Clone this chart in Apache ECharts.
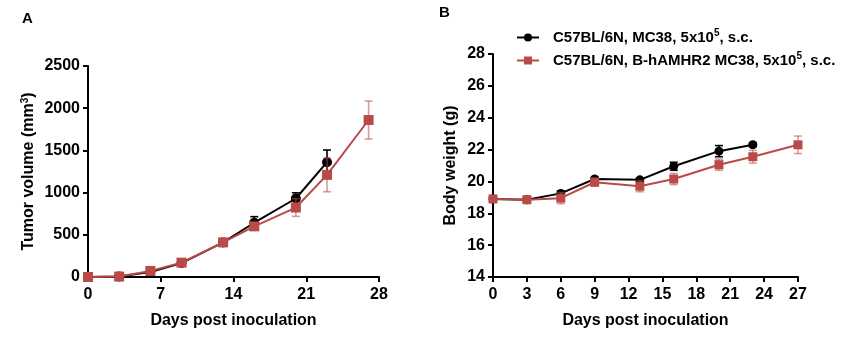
<!DOCTYPE html>
<html>
<head>
<meta charset="utf-8">
<script src="https://cdn.jsdelivr.net/npm/echarts@6/dist/echarts.min.js"></script>
<style>
  html, body { margin: 0; padding: 0; background: #fff; }
  #chart { width: 847px; height: 339px; }
</style>
</head>
<body>
<div id="chart"></div>
<script>
// Measurement days
const daysWT = [0, 3, 6, 9, 13, 16, 20, 23];
const daysH = [0, 3, 6, 9, 13, 16, 20, 23, 27];

// Tumor volume (mm^3), mean and SEM
const tumorWT = [0, 5, 58, 165, 410, 643, 930, 1360];
const tumorWTsem = [0, 3, 10, 20, 25, 72, 68, 145];
const tumorH = [0, 5, 72, 170, 410, 600, 823, 1210, 1860];
const tumorHsem = [0, 3, 12, 20, 25, 35, 105, 200, 225];

// Body weight (g), mean and SEM
const weightWT = [18.9, 18.85, 19.25, 20.15, 20.1, 20.95, 21.9, 22.3];
const weightWTsem = [0.12, 0.1, 0.15, 0.12, 0.1, 0.25, 0.35, 0.12];
const weightH = [18.9, 18.85, 18.95, 19.95, 19.7, 20.15, 21.05, 21.55, 22.3];
const weightHsem = [0.2, 0.15, 0.35, 0.25, 0.35, 0.35, 0.35, 0.4, 0.55];

// Axis ticks
const tumorXTicks = { min: 0, max: 28, interval: 7 };
const tumorYTicks = { min: 0, max: 2500, interval: 500 };
const weightXTicks = { min: 0, max: 27, interval: 3 };
const weightYTicks = { min: 14, max: 28, interval: 2 };

const nameWT = 'C57BL/6N, MC38, 5x10^5, s.c.';
const nameH = 'C57BL/6N, B-hAMHR2 MC38, 5x10^5, s.c.';

const FONT = '"Liberation Sans", Arial, sans-serif';
const BLACK = '#000000';
const RED = '#b94a48';
const RED_ERR = 'rgba(185,74,72,0.55)';

const pairs = (xs, ys) => xs.map((x, i) => [x, ys[i]]);
const triples = (xs, ys, es) => xs.map((x, i) => [x, ys[i], es[i]]);

function errorBars(color, cap) {
  return function (params, api) {
    const x = api.value(0), y = api.value(1), e = api.value(2);
    const top = api.coord([x, y + e]);
    const bot = api.coord([x, y - e]);
    const style = { stroke: color, lineWidth: 1.6 };
    return {
      type: 'group',
      children: [
        { type: 'line', shape: { x1: top[0], y1: top[1], x2: bot[0], y2: bot[1] }, style },
        { type: 'line', shape: { x1: top[0] - cap, y1: top[1], x2: top[0] + cap, y2: top[1] }, style },
        { type: 'line', shape: { x1: bot[0] - cap, y1: bot[1], x2: bot[0] + cap, y2: bot[1] }, style }
      ]
    };
  };
}

const tickLabel = { color: BLACK, fontFamily: FONT, fontWeight: 'bold', fontSize: 16, formatter: v => String(v) };
const axisLine = { show: true, lineStyle: { color: BLACK, width: 2 } };
const axisTick = { show: true, length: 5, lineStyle: { color: BLACK, width: 2 } };
const nameStyle = {
  color: BLACK, fontFamily: FONT, fontWeight: 'bold', fontSize: 16,
  rich: {
    n: { color: BLACK, fontFamily: FONT, fontWeight: 'bold', fontSize: 16 },
    s: { color: BLACK, fontFamily: FONT, fontWeight: 'bold', fontSize: 10, padding: [0, 0, 8, 0] }
  }
};

function xAxisOf(gridIndex, t) {
  return {
    type: 'value', gridIndex, min: t.min, max: t.max, interval: t.interval,
    name: 'Days post inoculation', nameLocation: 'middle', nameGap: 36,
    nameTextStyle: nameStyle,
    axisLine, axisTick, splitLine: { show: false },
    axisLabel: Object.assign({ margin: 10 }, tickLabel)
  };
}
function yAxisOf(gridIndex, t, name, gap) {
  return {
    type: 'value', gridIndex, min: t.min, max: t.max, interval: t.interval,
    name, nameLocation: 'middle', nameGap: gap, nameRotate: 90,
    nameTextStyle: nameStyle,
    axisLine, axisTick, splitLine: { show: false },
    axisLabel: Object.assign({ margin: 8 }, tickLabel)
  };
}

function lineSeries(name, idx, data, color, symbol, size, z) {
  return {
    name, type: 'line', xAxisIndex: idx, yAxisIndex: idx, data,
    symbol, symbolSize: size, z,
    lineStyle: { color, width: 2 },
    itemStyle: { color, borderWidth: 0 },
    emphasis: { disabled: true }, animation: false
  };
}
function errSeries(name, idx, data, color, z) {
  return {
    name, type: 'custom', xAxisIndex: idx, yAxisIndex: idx, data, z,
    renderItem: errorBars(color, 4), animation: false, silent: true
  };
}

const legendRich = {
  a: { color: BLACK, fontFamily: FONT, fontWeight: 'bold', fontSize: 15 },
  s: { color: BLACK, fontFamily: FONT, fontWeight: 'bold', fontSize: 10, padding: [0, 0, 9, 0] }
};

const chart = echarts.init(document.getElementById('chart'), null, { renderer: 'canvas' });
chart.setOption({
  animation: false,
  backgroundColor: '#ffffff',
  graphic: [
    { type: 'text', left: 22, top: 11, style: { text: 'A', font: 'bold 15px ' + FONT, fill: BLACK } },
    { type: 'text', left: 439, top: 5, style: { text: 'B', font: 'bold 15px ' + FONT, fill: BLACK } }
  ],
  legend: {
    orient: 'vertical', left: 511, top: 23, itemGap: 6,
    itemWidth: 22, itemHeight: 10,
    data: [nameWT, nameH],
    selectedMode: false,
    formatter: function (n) {
      const parts = n.split('^5');
      return '{a|' + parts[0] + '}{s|5}{a|' + parts[1] + '}';
    },
    textStyle: { rich: legendRich, padding: [0, 0, 0, 9] }
  },
  grid: [
    { left: 88, top: 66, width: 291, height: 211 },
    { left: 493, top: 54, width: 305, height: 223 }
  ],
  xAxis: [xAxisOf(0, tumorXTicks), xAxisOf(1, weightXTicks)],
  yAxis: [
    yAxisOf(0, tumorYTicks, '{n|Tumor volume (mm}{s|3}{n|)}', 50),
    yAxisOf(1, weightYTicks, 'Body weight (g)', 34)
  ],
  series: [
    errSeries('errWT_A', 0, triples(daysWT, tumorWT, tumorWTsem), BLACK, 1),
    lineSeries(nameWT, 0, pairs(daysWT, tumorWT), BLACK, 'circle', 10, 2),
    errSeries('errH_A', 0, triples(daysH, tumorH, tumorHsem), RED_ERR, 3),
    lineSeries(nameH, 0, pairs(daysH, tumorH), RED, 'rect', 10, 4),
    errSeries('errWT_B', 1, triples(daysWT, weightWT, weightWTsem), BLACK, 1),
    lineSeries(nameWT, 1, pairs(daysWT, weightWT), BLACK, 'circle', 9, 2),
    errSeries('errH_B', 1, triples(daysH, weightH, weightHsem), RED_ERR, 3),
    lineSeries(nameH, 1, pairs(daysH, weightH), RED, 'rect', 9, 4)
  ]
});
</script>
</body>
</html>
